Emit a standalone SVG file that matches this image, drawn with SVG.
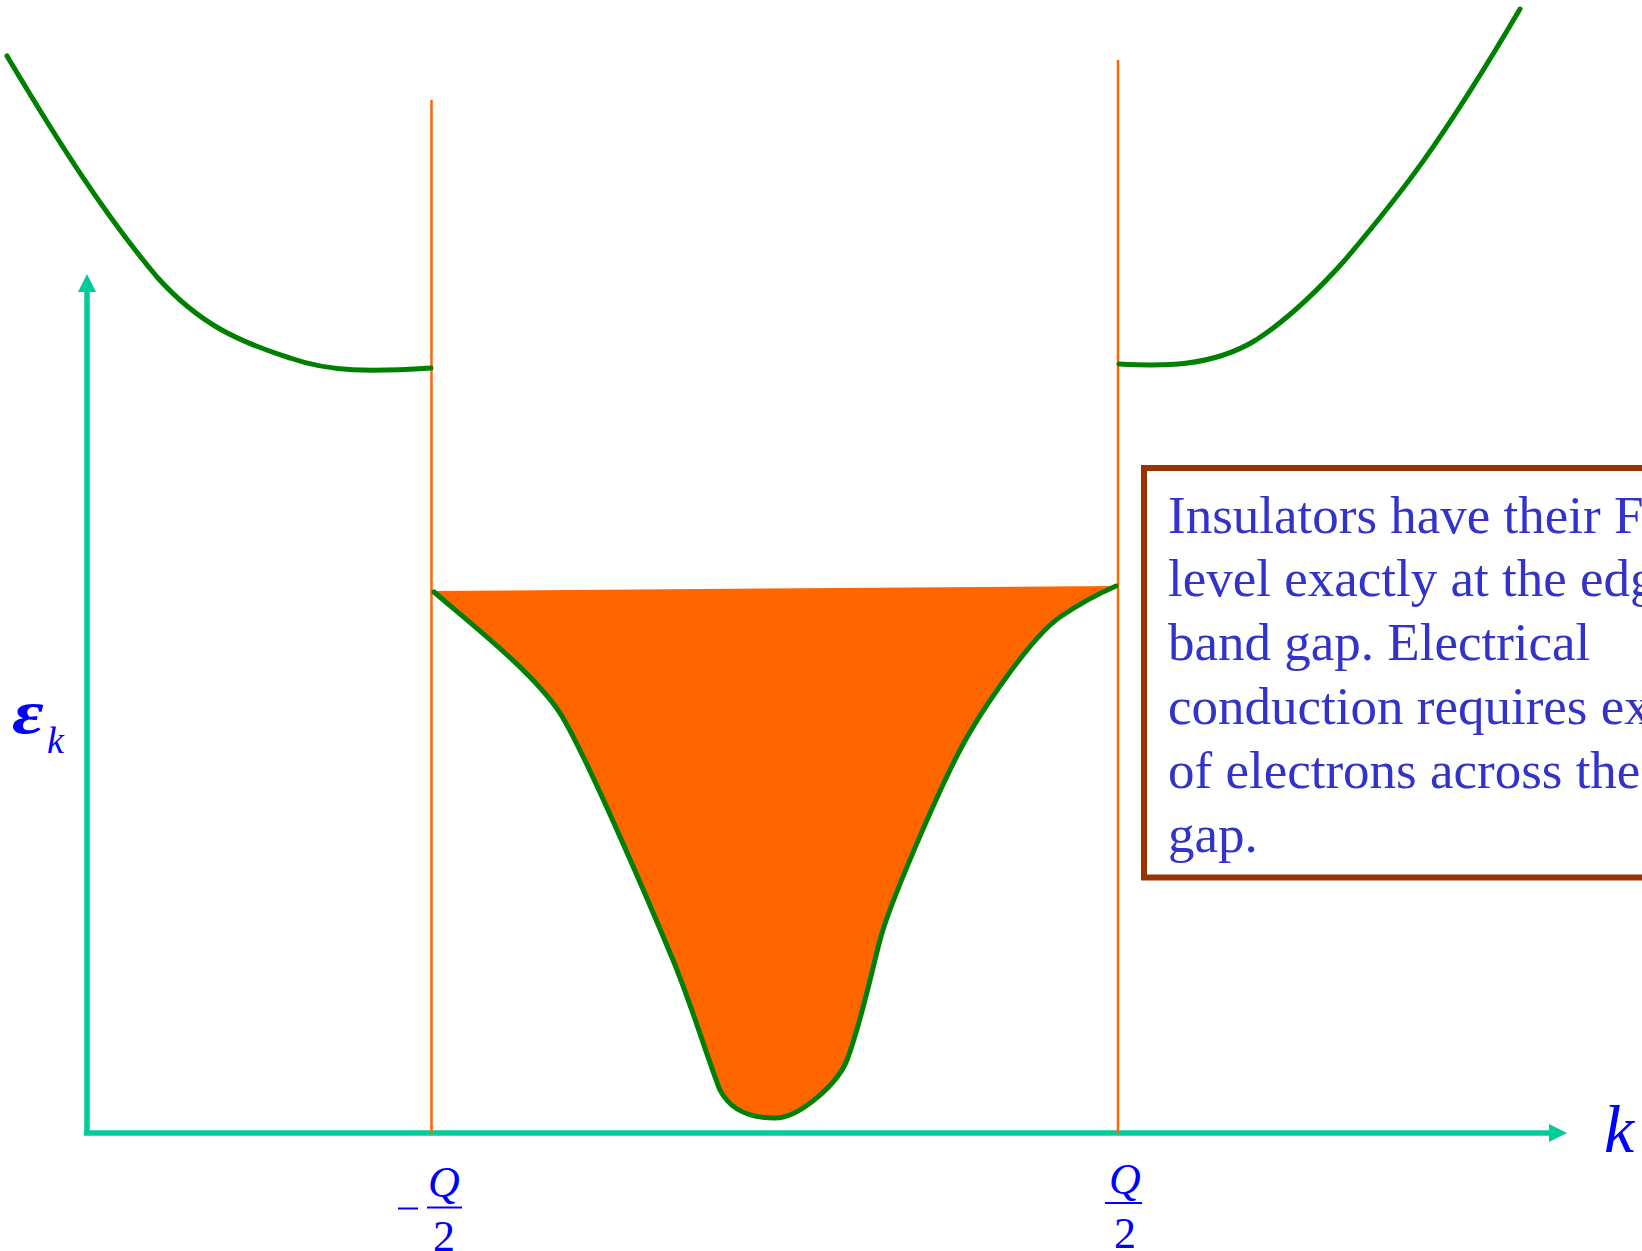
<svg xmlns="http://www.w3.org/2000/svg" width="1642" height="1251" viewBox="0 0 1642 1251">
<style>
.axis{stroke:#00CC99;stroke-width:5.5;fill:none}
.bz{stroke:#FF6600;stroke-width:2.5;fill:none}
.band{stroke:#008000;stroke-width:5;fill:none;stroke-linecap:round;stroke-linejoin:round}
.lbl{font-family:"Liberation Serif","Times New Roman",serif;fill:#0000FF}
.note{font-family:"Liberation Serif","Times New Roman",serif;font-size:53px;fill:#3333CC}
</style>
<defs>
<marker id="arr" viewBox="0 0 18 18" refX="0" refY="9" markerWidth="18" markerHeight="18" markerUnits="userSpaceOnUse" orient="auto">
<path d="M0,0 L18,9 L0,18 Z" fill="#00CC99"/>
</marker>
</defs>
<rect width="1642" height="1251" fill="#FFFFFF"/>
<g id="connectors">
<line class="axis" x1="87" y1="1133" x2="87" y2="292" marker-end="url(#arr)"/>
<line class="axis" x1="84" y1="1133" x2="1549" y2="1133" marker-end="url(#arr)"/>
<line class="bz" x1="431.5" y1="100" x2="431.5" y2="1133"/>
<line class="bz" x1="1118" y1="60" x2="1118" y2="1133"/>
</g>
<g id="valence-band">
<path d="M432,591 L1116,586 C1100,593 1076,606 1060,617 C1031,637 980,712 960,750 C937,794 889,905 880,940 C871,974 861,1023 847,1060 C838,1083 800,1118 775,1118 C752,1118 731,1112 720,1090 C708,1060 692,1006 673,960 C654,914 585,752 560,713 C533,672 470,623 432,591 Z" fill="#FF6600" stroke="none"/>
<path class="band" d="M434,592 C470,623 533,672 560,713 C585,752 654,914 673,960 C692,1006 708,1060 720,1090 C731,1112 752,1118 775,1118 C800,1118 838,1083 847,1060 C861,1023 871,974 880,940 C889,905 937,794 960,750 C980,712 1031,637 1060,617 C1076,606 1100,593 1116,586"/>
</g>
<g id="conduction-band-left">
<path class="band" d="M7,56 C60,145 105,215 157,277 C200,325 240,342 290,358 C330,372 370,372 431,368"/>
</g>
<g id="conduction-band-right">
<path class="band" d="M1119,364 C1160,366 1210,368 1256,340 C1290,318 1320,288 1345,260 C1400,195 1440,145 1520,9"/>
</g>
<g id="label-energy">
<text class="lbl" transform="translate(12,733) scale(1.25,1)" x="0" y="0" font-size="62" font-style="italic" font-weight="bold">ε</text>
<text class="lbl" x="47" y="753" font-size="38" font-style="italic">k</text>
</g>
<g id="label-k">
<text class="lbl" x="1604" y="1152" font-size="68" font-style="italic">k</text>
</g>
<g id="label-neg-q2">
<line x1="398" y1="1208.5" x2="418" y2="1208.5" stroke="#0000FF" stroke-width="2"/>
<line x1="427" y1="1207.5" x2="462" y2="1207.5" stroke="#0000FF" stroke-width="2"/>
<text class="lbl" x="444" y="1197" font-size="44" font-style="italic" text-anchor="middle">Q</text>
<text class="lbl" x="444" y="1251" font-size="44" text-anchor="middle">2</text>
</g>
<g id="label-pos-q2">
<line x1="1105" y1="1203" x2="1142" y2="1203" stroke="#0000FF" stroke-width="2"/>
<text class="lbl" x="1125" y="1194" font-size="44" font-style="italic" text-anchor="middle">Q</text>
<text class="lbl" x="1125" y="1248" font-size="44" text-anchor="middle">2</text>
</g>
<g id="note">
<rect x="1144" y="468" width="600" height="409.5" fill="#FFFFFF" stroke="#993300" stroke-width="6"/>
<text class="note" x="1168" y="533">Insulators have their Fermi</text>
<text class="note" x="1168" y="596">level exactly at the edge</text>
<text class="note" x="1168" y="660">band gap. Electrical</text>
<text class="note" x="1168" y="724">conduction requires excitation</text>
<text class="note" x="1168" y="788">of electrons across the</text>
<text class="note" x="1168" y="852">gap.</text>
</g>
</svg>
